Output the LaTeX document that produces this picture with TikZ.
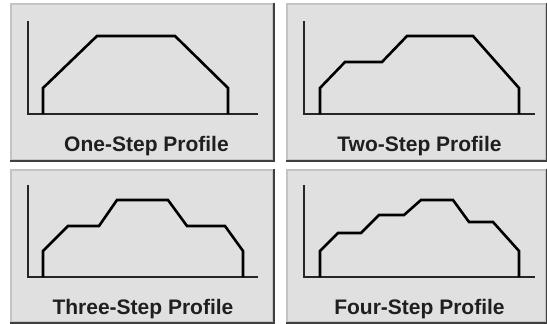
\documentclass[tikz,border=0pt]{standalone}
\usepackage{fontspec}
\setmainfont{Liberation Sans}
\usepackage{tikz}
\usetikzlibrary{positioning}
\definecolor{panelfill}{HTML}{E0E0E0}
\definecolor{lightedge}{HTML}{C4C4C4}
\definecolor{darkedge}{HTML}{404040}
\tikzset{
  panel/.style={draw=lightedge, fill=panelfill, line width=2pt, inner sep=0pt},
  shadowedge/.style={draw=darkedge, line width=2.5pt},
  axis/.style={draw=black!85, line width=1.3pt},
  profile/.style={draw=black, line width=2.6pt, line join=miter},
  caption/.style={font=\fontsize{21}{24}\selectfont\bfseries, text=black!88, inner sep=0pt, anchor=base}
}
\begin{document}
\begin{tikzpicture}[x=1pt,y=-1pt]
\useasboundingbox (0,0) rectangle (547,324);
% panels
\node[panel, minimum width=262pt, minimum height=156pt] (p1) at (142,82) {};
\node[panel, minimum width=259pt, minimum height=156pt] (p2) at (416.5,82) {};
\node[panel, minimum width=262pt, minimum height=152pt] (p3) at (142,246) {};
\node[panel, minimum width=259pt, minimum height=152pt] (p4) at (416.5,246) {};
\foreach \p in {p1,p2,p3,p4}
  \draw[shadowedge] (\p.south west) -- (\p.south east) -- (\p.north east);
% captions
\node[caption] (l1) at (146.5,151) {One-Step Profile};
\node[caption] (l2) at (419.5,151) {Two-Step Profile};
\node[caption] (l3) at (143,314) {Three-Step Profile};
\node[caption] (l4) at (419.5,314) {Four-Step Profile};
% axes
\draw[axis] (28,21) -- (28,114) -- (258,114);
\draw[axis] (304,21) -- (304,114) -- (535,114);
\draw[axis] (28,185) -- (28,277) -- (258,277);
\draw[axis] (304,185) -- (304,277) -- (535,277);
% profiles
\draw[profile] (43,114) -- (43,88) -- (97,36) -- (175,36) -- (228,88) -- (228,114);
\draw[profile] (320,114) -- (320,88) -- (345,62) -- (382,62) -- (407,36) -- (473,36)
  -- (519,88) -- (519,114);
\draw[profile] (43,277) -- (43,251) -- (68,226) -- (99,226) -- (117,200) -- (168,200)
  -- (187,226) -- (225,226) -- (243,251) -- (243,277);
\draw[profile] (320,277) -- (320,251) -- (338,233) -- (361,233) -- (379,215) -- (404,215)
  -- (421,200) -- (453,200) -- (469,222) -- (493,222) -- (519,251) -- (519,277);
\end{tikzpicture}
\end{document}
